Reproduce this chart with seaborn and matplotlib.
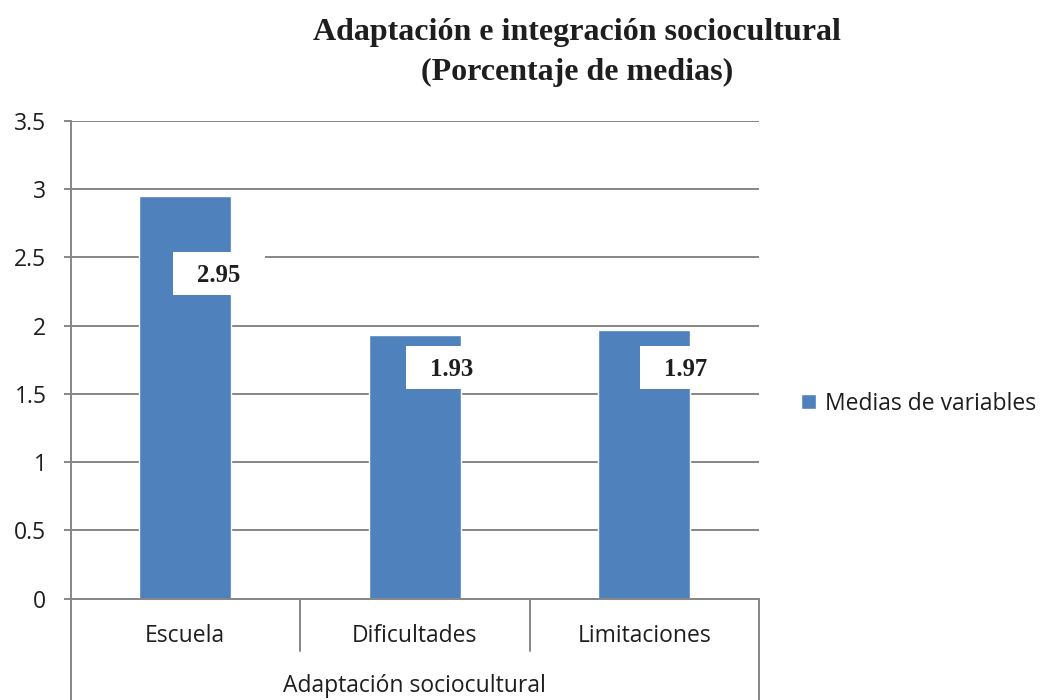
import matplotlib
matplotlib.use("Agg")
import matplotlib.pyplot as plt
import matplotlib.patches as mpatches
import seaborn as sns
import pandas as pd

# ---- data ----
categories = ["Escuela", "Dificultades", "Limitaciones"]
values = [2.95, 1.93, 1.97]
value_labels = ["2.95", "1.93", "1.97"]
series_name = "Medias de variables"
group_label = "Adaptación sociocultural"
title_lines = ["Adaptación e integración sociocultural", "(Porcentaje de medias)"]
yticks = [0, 0.5, 1, 1.5, 2, 2.5, 3, 3.5]
ytick_labels = ["0", "0.5", "1", "1.5", "2", "2.5", "3", "3.5"]

# ---- layout (label box placement, data units) ----
label_dx = [0.147, 0.162, 0.182]
label_y = [2.383, 1.694, 1.690]
box_w, box_h = 0.40, 0.315

BAR = "#4F81BD"
GRID = "#868686"
TXT = "#1e1e1e"
FS = 16.5

sns.set_theme(style="white")
plt.rcParams["font.family"] = ["Open Sans", "DejaVu Sans"]

W, H = 1042, 700
fig = plt.figure(figsize=(W / 100, H / 100), dpi=100)
ax = fig.add_axes([70.5 / W, (H - 598.5) / H, 688.5 / W, 477.5 / H])

df = pd.DataFrame({"cat": categories, "val": values})
sns.barplot(data=df, x="cat", y="val", color=BAR, saturation=1, width=0.4,
            ax=ax, label=series_name, zorder=2)

ax.set_xlim(-0.5, len(categories) - 0.5)
ax.set_ylim(0, 3.5)
ax.set_yticks(yticks)
ax.set_yticklabels(ytick_labels, fontsize=FS, color=TXT)
ax.set_xlabel("")
ax.set_ylabel("")
ax.set_axisbelow(True)
ax.yaxis.grid(True, color=GRID, linewidth=1.4, zorder=0)
ax.xaxis.grid(False)

for s in ["top", "right"]:
    ax.spines[s].set_visible(False)
for s in ["left", "bottom"]:
    ax.spines[s].set_color(GRID)
    ax.spines[s].set_linewidth(1.4)

ax.tick_params(axis="y", direction="out", length=5.3, width=1.4, color=GRID,
               pad=12.0, left=True)
ax.tick_params(axis="x", length=0, pad=18.5, labelsize=FS, labelcolor=TXT)

# multi-level category axis separators
xt = ax.get_xaxis_transform()
sep_short = 52.5 / 477.5
sep_long = 101 / 477.5
for xs in [0.5, 1.5]:
    ax.plot([xs, xs], [0, -sep_short], transform=xt, color=GRID, lw=1.4, clip_on=False)
for xs in [-0.5, len(categories) - 0.5]:
    ax.plot([xs, xs], [0, -sep_long], transform=xt, color=GRID, lw=1.4, clip_on=False)

ax.text((len(categories) - 1) / 2, -88 / 477.5, group_label, transform=xt,
        ha="center", va="center", fontsize=FS, color=TXT)

# data labels in white boxes
for i, (lab, dx, ly) in enumerate(zip(value_labels, label_dx, label_y)):
    cx = i + dx
    ax.add_patch(mpatches.Rectangle((cx - box_w / 2, ly - box_h / 2), box_w, box_h,
                                    facecolor="white", edgecolor="none", zorder=3,
                                    clip_on=False))
    ax.text(cx, ly - 0.015, lab, ha="center", va="center", fontsize=17.8,
            fontweight="bold", family=["Liberation Serif", "DejaVu Serif"],
            color=TXT, zorder=4)

# title
for k, line in enumerate(title_lines):
    fig.text(577 / W, 1 - (40 + 40 * k) / H, line, ha="center", va="baseline",
             fontsize=23, fontweight="bold",
             family=["Liberation Serif", "DejaVu Serif"], color=TXT)

# legend
handles, labels = ax.get_legend_handles_labels()
leg = ax.legend(handles[:1], labels[:1], loc="center left",
                bbox_to_anchor=(801 / W, 1 - 403.5 / H), bbox_transform=fig.transFigure,
                frameon=False, fontsize=FS, handlelength=0.65, handleheight=0.65,
                handletextpad=0.4, borderpad=0, borderaxespad=0)
for t in leg.get_texts():
    t.set_color(TXT)

fig.savefig("out.png", dpi=100)
